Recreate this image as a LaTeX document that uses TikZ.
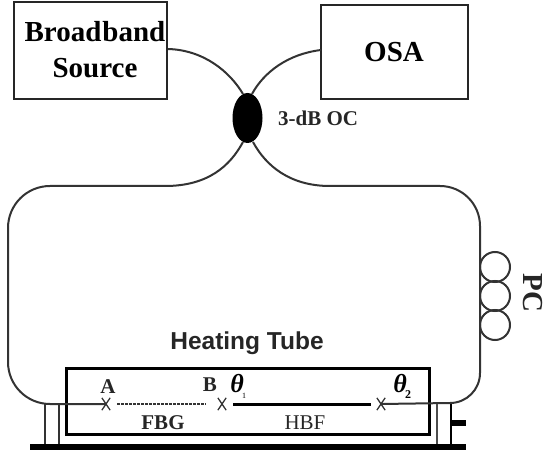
\documentclass[tikz,border=0pt]{standalone}
\usepackage{fontspec}
\setmainfont{Liberation Serif}
\newfontfamily\hsans{Liberation Sans}
\usetikzlibrary{shapes.geometric,shapes.misc}
\tikzset{
 boxn/.style={draw=black!85,line width=2pt,inner sep=0pt,font=\fontsize{29}{32}\selectfont\bfseries,align=center},
 fibre/.style={draw=black!80,line width=2pt},
 lbl/.style={inner sep=0pt,font=\fontsize{21}{24}\selectfont\bfseries,text=black!85},
 mk/.style={cross out,draw=black!80,line width=1.3pt,minimum width=7pt,minimum height=11pt,inner sep=0pt},
 paddle/.style={circle,draw=black!80,line width=2pt,minimum size=30pt,inner sep=0pt}
}
\begin{document}
\begin{tikzpicture}[x=1pt,y=-1pt]
\useasboundingbox (0,0) rectangle (546,454);
\node[boxn,minimum width=153pt,minimum height=97pt] (src) at (90.5,50.5) {};
\node[inner sep=0pt,font=\fontsize{29}{33}\selectfont\bfseries,align=center] (srct) at (95,50) {Broad\kern1pt band\\[3pt]Source};
\node[boxn,minimum width=147pt,minimum height=94pt] (osa) at (394,52) {OSA};
\node[ellipse,fill=black,minimum width=30pt,minimum height=50pt,inner sep=0pt] (oc) at (247.5,118) {};
\node[lbl,anchor=west] (ocl) at (278,118) {3-dB OC};
\node[inner sep=0pt,font=\hsans\fontsize{24.5}{28}\selectfont\bfseries,text=black!85] (tubel) at (247,343) {Heating Tube};
\node[draw=black,line width=3pt,minimum width=363pt,minimum height=66pt,inner sep=0pt] (tube) at (248,401) {};
\node[lbl] (fbg) at (163,423) {FBG};
\node[lbl,font=\fontsize{21}{24}\selectfont] (hbf) at (305,423) {HBF};
\node[lbl] (la) at (108,387) {A};
\node[lbl] (lb) at (210,385) {B};
\node[inner sep=0pt,font=\fontsize{26}{28}\selectfont\itshape\bfseries] (t1) at (237,384) {θ};
\node[inner sep=0pt,font=\fontsize{8}{9}\selectfont] (t1s) at (244,396) {1};
\node[inner sep=0pt,font=\fontsize{26}{28}\selectfont\itshape\bfseries] (t2) at (400,384) {θ};
\node[inner sep=0pt,font=\fontsize{12}{13}\selectfont\bfseries] (t2s) at (408,395) {2};
\node[mk] (ma) at (106,404) {};
\node[mk] (mb) at (222,404) {};
\node[mk] (mc) at (381,404) {};
\node[paddle] (p1) at (495,267) {};
\node[paddle] (p2) at (495,296) {};
\node[paddle] (p3) at (495,325) {};
\node[lbl,rotate=-90,font=\fontsize{29}{32}\selectfont\bfseries] (pc) at (533,293) {PC};
% fibres
\coordinate (bs) at (168,49);
\coordinate (os) at (321,50);
\draw[fibre] (bs) .. controls (204,50) and (230,72) .. (243,94);
\draw[fibre] (os) .. controls (288,54) and (264,72) .. (252,94);
\draw[fibre] (243,142) .. controls (230,166) and (208,186) .. (165,186)
 -- (50,186) arc[start angle=-90,end angle=-180,radius=42] -- (8,362)
 arc[start angle=180,end angle=90,radius=42] -- (ma.center);
\draw[fibre] (253,142) .. controls (266,166) and (290,186) .. (330,186)
 -- (440,186) arc[start angle=-90,end angle=0,radius=40] -- (480,373)
 arc[start angle=0,end angle=90,radius=30] -- (mc.center);
\draw[black!80,line width=1.7pt,dash pattern=on 2.5pt off 1.5pt] (117,404) -- (206,404);
\draw[black,line width=3pt] (233,404) -- (371,404);
% posts and base
\draw[black!80,line width=2pt] (45,404) -- (45,446) (59,404) -- (59,446);
\draw[black!70,line width=2.5pt] (437,404) -- (437,446);
\draw[black,line width=2pt] (451,404) -- (451,446);
\draw[black,line width=6pt] (30,447) -- (466,447);
\draw[black,line width=6pt] (451,423) -- (466,423);
\end{tikzpicture}
\end{document}
